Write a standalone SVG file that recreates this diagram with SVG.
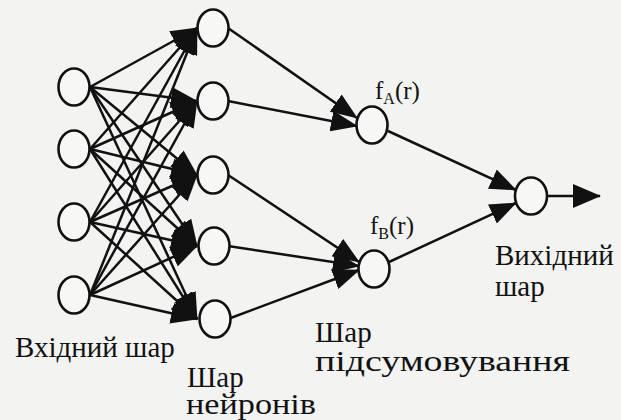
<svg xmlns="http://www.w3.org/2000/svg" width="621" height="420" viewBox="0 0 621 420">
<defs>
<marker id="ah" markerUnits="userSpaceOnUse" markerWidth="27" markerHeight="21" viewBox="0 0 27 21" refX="26" refY="10.5" orient="auto">
<path d="M0,0 L27,10.5 L0,21 z" fill="#111"/>
</marker>
<marker id="ahBig" markerUnits="userSpaceOnUse" markerWidth="28" markerHeight="24" viewBox="0 0 28 24" refX="27" refY="12" orient="auto">
<path d="M0,0 L28,12 L0,24 z" fill="#111"/>
</marker>
</defs>
<style>
.node{fill:#f7f7f5;stroke:#111;stroke-width:2.6}
.edge{stroke:#111;stroke-width:2.5;fill:none;marker-end:url(#ah)}
</style>
<rect width="621" height="420" fill="#f3f3f1"/>
<g id="connectors">
<line class="edge" x1="90" y1="87" x2="197" y2="28"/>
<line class="edge" x1="90" y1="87" x2="197" y2="101"/>
<line class="edge" x1="90" y1="87" x2="197" y2="175"/>
<line class="edge" x1="90" y1="87" x2="197" y2="246"/>
<line class="edge" x1="90" y1="87" x2="197" y2="319"/>
<line class="edge" x1="90" y1="149" x2="197" y2="28"/>
<line class="edge" x1="90" y1="149" x2="197" y2="101"/>
<line class="edge" x1="90" y1="149" x2="197" y2="175"/>
<line class="edge" x1="90" y1="149" x2="197" y2="246"/>
<line class="edge" x1="90" y1="149" x2="197" y2="319"/>
<line class="edge" x1="90" y1="222" x2="197" y2="28"/>
<line class="edge" x1="90" y1="222" x2="197" y2="101"/>
<line class="edge" x1="90" y1="222" x2="197" y2="175"/>
<line class="edge" x1="90" y1="222" x2="197" y2="246"/>
<line class="edge" x1="90" y1="222" x2="197" y2="319"/>
<line class="edge" x1="90" y1="295" x2="197" y2="28"/>
<line class="edge" x1="90" y1="295" x2="197" y2="101"/>
<line class="edge" x1="90" y1="295" x2="197" y2="175"/>
<line class="edge" x1="90" y1="295" x2="197" y2="246"/>
<line class="edge" x1="90" y1="295" x2="197" y2="319"/>
<line class="edge" x1="228" y1="28" x2="357" y2="118"/>
<line class="edge" x1="228" y1="101" x2="357" y2="126"/>
<line class="edge" x1="228" y1="175" x2="359" y2="262"/>
<line class="edge" x1="228" y1="246" x2="359" y2="266"/>
<line class="edge" x1="228" y1="319" x2="359" y2="270"/>
<line class="edge" x1="388" y1="131" x2="516" y2="190"/>
<line class="edge" x1="389" y1="262" x2="516" y2="203"/>
<line x1="547" y1="196" x2="600" y2="196" stroke="#111" stroke-width="2.5" marker-end="url(#ahBig)"/>
</g>
<g id="in1"><ellipse class="node" cx="74" cy="87" rx="15.5" ry="18.5"/></g>
<g id="in2"><ellipse class="node" cx="74" cy="149" rx="15.5" ry="18.5"/></g>
<g id="in3"><ellipse class="node" cx="74" cy="222" rx="15.5" ry="18.5"/></g>
<g id="in4"><ellipse class="node" cx="74" cy="295" rx="15.5" ry="18.5"/></g>
<g id="h1"><ellipse class="node" cx="213" cy="28" rx="15.5" ry="18.5"/></g>
<g id="h2"><ellipse class="node" cx="213" cy="101" rx="15.5" ry="18.5"/></g>
<g id="h3"><ellipse class="node" cx="213" cy="175" rx="15.5" ry="18.5"/></g>
<g id="h4"><ellipse class="node" cx="214" cy="246" rx="15.5" ry="18.5"/></g>
<g id="h5"><ellipse class="node" cx="215" cy="319" rx="15.5" ry="18.5"/></g>
<g id="sumA"><ellipse class="node" cx="372" cy="125" rx="15.5" ry="18.5"/>
<text x="375" y="99" font-family="Liberation Serif" font-size="25" fill="#111">f<tspan font-size="16" dy="5">A</tspan><tspan dy="-5">(r)</tspan></text></g>
<g id="sumB"><ellipse class="node" cx="374" cy="269" rx="15.5" ry="18.5"/>
<text x="370" y="234" font-family="Liberation Serif" font-size="25" fill="#111">f<tspan font-size="16" dy="5">B</tspan><tspan dy="-5">(r)</tspan></text></g>
<g id="out"><ellipse class="node" cx="531" cy="196" rx="16" ry="18.5"/></g>
<g id="labels" fill="#111">
<text x="15" y="357" font-family="Liberation Serif" font-size="29">Вхідний шар</text>
<text x="187" y="387" font-family="Liberation Serif" font-size="29">Шар</text>
<text x="186" y="414" font-family="Liberation Serif" font-size="29" textLength="130" lengthAdjust="spacingAndGlyphs">нейронів</text>
<text x="315" y="342" font-family="Liberation Serif" font-size="29">Шар</text>
<text x="315" y="371" font-family="Liberation Serif" font-size="29" textLength="255" lengthAdjust="spacingAndGlyphs">підсумовування</text>
<text x="495" y="265" font-family="Liberation Serif" font-size="29">Вихідний</text>
<text x="495" y="296" font-family="Liberation Serif" font-size="29">шар</text>
</g>
</svg>
